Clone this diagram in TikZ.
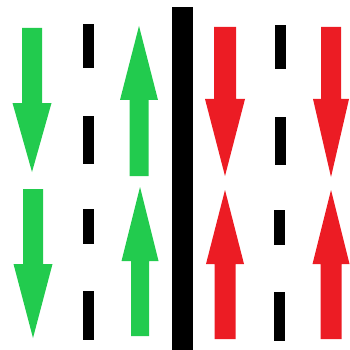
\documentclass[tikz,border=0pt]{standalone}
\usepackage{tikz}
\usetikzlibrary{positioning,calc}
\definecolor{vertup}{HTML}{22CB4E}
\definecolor{rougedn}{HTML}{EC1C24}
\tikzset{
  fleche/.style={fill=#1, draw=none},
  tiret/.style={fill=black, draw=none},
  barre/.style={fill=black, draw=none},
}
\begin{document}
\begin{tikzpicture}[x=1pt, y=-1pt]
  \useasboundingbox (0,0) rectangle (349,350);
  % fleches : centre / queue / base de pointe / pointe / demi-corps / demi-pointe / couleur
  \foreach \cx/\tl/\hb/\tp/\sw/\hw/\col in {
      32/28/103/172/10/19.5/vertup,
      33/189/264/338/10/19.5/vertup,
      139/176/100/26/9.5/19/vertup,
      140/336/261/187/9/18.5/vertup,
      225/27/99/176/11/20/rougedn,
      331/27/99/177/10/18/rougedn,
      225/339/264/190/10.5/19/rougedn,
      331/339/264/190/10.5/18.5/rougedn}{
    \fill[fleche=\col] ({\cx-\sw},\tl) -- ({\cx+\sw},\tl) -- ({\cx+\sw},\hb)
      -- ({\cx+\hw},\hb) -- (\cx,\tp) -- ({\cx-\hw},\hb) -- ({\cx-\sw},\hb) -- cycle;
  }
  % tirets
  \foreach \xl/\ya/\yb in {83/24/68, 83/116/164, 83/209/244, 83/291/340,
                           275/25/69, 275/117/165, 274/210/245, 274/292/341}{
    \fill[tiret] (\xl,\ya) rectangle ({\xl+11},\yb);
  }
  % separation
  \fill[barre] (172,7) rectangle (193,350);
\end{tikzpicture}
\end{document}
